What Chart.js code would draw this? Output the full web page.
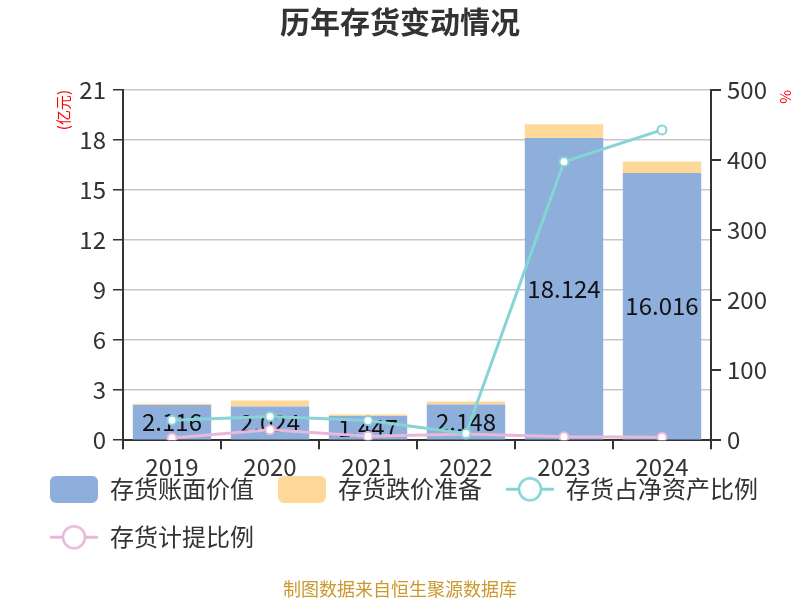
<!DOCTYPE html>
<html>
<head>
<meta charset="utf-8">
<script src="https://cdn.jsdelivr.net/npm/chart.js@4/dist/chart.umd.min.js"></script>
<style>
	html, body { margin: 0; padding: 0; background: #fff; }
	#wrap { width: 800px; height: 600px; }
</style>
</head>
<body>
<div id="wrap"><canvas id="invC" width="800" height="600"></canvas></div>
<script>
// data
const years = ['2019', '2020', '2021', '2022', '2023', '2024'];
const bookValue = [2.116, 2.024, 1.447, 2.148, 18.124, 16.016];   // 亿元
const reserve = [0.07, 0.36, 0.10, 0.18, 0.82, 0.70];             // 亿元
const shareOfNetAssets = [28.6, 34, 28, 9.5, 397.6, 443];         // %
const provisionRatio = [3.3, 14.8, 5.7, 9, 4.8, 4.2];             // %
const leftTicks = [0, 21, 3];
const rightTicks = [0, 500, 100];

const BLUE = '#8eaedb', ORANGE = '#fed899', TEAL = '#86d4d6', PINK = '#e8b8da';

Chart.defaults.font.family = "'Noto Sans CJK SC', 'Noto Sans', sans-serif";
Chart.defaults.font.size = 24;
Chart.defaults.color = '#333';

// legend swatches
function boxImg(color) {
	const c = document.createElement('canvas');
	c.width = 48; c.height = 27;
	const g = c.getContext('2d');
	g.fillStyle = color;
	g.beginPath();
	g.roundRect(0, 0, 48, 27, 6);
	g.fill();
	return c;
}
function lineImg(color) {
	const c = document.createElement('canvas');
	c.width = 48; c.height = 27;
	const g = c.getContext('2d');
	g.strokeStyle = color;
	g.lineWidth = 3;
	g.beginPath();
	g.moveTo(0, 13.5); g.lineTo(48, 13.5);
	g.stroke();
	g.fillStyle = '#fff';
	g.lineWidth = 2.5;
	g.beginPath();
	g.arc(24, 13.5, 11, 0, Math.PI * 2);
	g.fill(); g.stroke();
	return c;
}
const swatches = [boxImg(BLUE), boxImg(ORANGE), lineImg(TEAL), lineImg(PINK)];

// value labels inside the book value bars
const barLabels = {
	id: 'barLabels',
	afterDatasetDraw(chart, args) {
		if (args.index !== 0) return;
		const ctx = chart.ctx;
		ctx.save();
		ctx.font = "24px 'Noto Sans CJK SC', 'Noto Sans', sans-serif";
		ctx.fillStyle = '#111';
		ctx.textAlign = 'center';
		ctx.textBaseline = 'middle';
		args.meta.data.forEach((bar, i) => {
			ctx.fillText(bookValue[i].toFixed(3), bar.x, (bar.y + bar.base) / 2);
		});
		ctx.restore();
	}
};
// pull the legend up under the year labels, keep the title centred on the page
const layoutNudge = {
	id: 'layoutNudge',
	afterLayout(chart) {
		const lg = chart.legend;
		const shift = lg.top - (chart.chartArea.bottom + 13);
		lg.top -= shift;
		lg.bottom -= shift;
		const t = chart.titleBlock;
		const d = (chart.width - (t.left + t.right)) / 2;
		t.left += d;
		t.right += d;
	}
};
// source note
const footer = {
	id: 'footer',
	afterDraw(chart) {
		const ctx = chart.ctx;
		ctx.save();
		ctx.font = "18px 'Noto Sans CJK SC', sans-serif";
		ctx.fillStyle = '#c9982e';
		ctx.textAlign = 'center';
		ctx.textBaseline = 'middle';
		ctx.fillText('制图数据来自恒生聚源数据库', chart.width / 2, chart.height - 11);
		ctx.restore();
	}
};

const lineCommon = {
	type: 'line',
	yAxisID: 'y1',
	borderWidth: 3,
	pointRadius: 4.5,
	pointBorderWidth: 2,
	pointBackgroundColor: '#fff',
	tension: 0,
	order: 0
};

new Chart(document.getElementById('invC'), {
	type: 'bar',
	data: {
		labels: years,
		datasets: [{
			label: '存货账面价值',
			data: bookValue,
			backgroundColor: BLUE,
			stack: 's',
			order: 1,
			barPercentage: 0.8,
			categoryPercentage: 1
		}, {
			label: '存货跌价准备',
			data: reserve,
			backgroundColor: ORANGE,
			stack: 's',
			order: 1,
			barPercentage: 0.8,
			categoryPercentage: 1
		}, {
			...lineCommon,
			label: '存货占净资产比例',
			data: shareOfNetAssets,
			borderColor: TEAL,
			pointBorderColor: TEAL
		}, {
			...lineCommon,
			label: '存货计提比例',
			data: provisionRatio,
			borderColor: PINK,
			pointBorderColor: PINK
		}]
	},
	options: {
		responsive: false,
		animation: false,
		layout: { padding: { left: 26, right: 5, top: 0, bottom: 10 } },
		plugins: {
			title: {
				display: true,
				text: '历年存货变动情况',
				color: '#333',
				font: { size: 30, weight: 'bold' },
				padding: { top: 4, bottom: 50 }
			},
			legend: {
				position: 'bottom',
				align: 'start',
				labels: {
					usePointStyle: true,
					pointStyleWidth: 48,
					padding: 24,
					color: '#333',
					font: { size: 24 },
					sort: (a, b) => a.datasetIndex - b.datasetIndex,
					generateLabels(chart) {
						const items = Chart.defaults.plugins.legend.labels.generateLabels(chart);
						items.forEach(it => { it.pointStyle = swatches[it.datasetIndex]; });
						return items;
					}
				}
			},
			tooltip: { enabled: false }
		},
		scales: {
			x: {
				stacked: true,
				grid: { offset: true, drawOnChartArea: false, tickColor: '#333', tickLength: 9, lineWidth: 2 },
				border: { color: '#333', width: 2 },
				ticks: { padding: 3, color: '#333', font: { size: 24 } }
			},
			y: {
				stacked: true,
				min: leftTicks[0], max: leftTicks[1],
				afterFit: (s) => { s.width = 97; },
				grid: { color: '#c8c8c8', lineWidth: 1.5, tickColor: '#333', tickLength: 10 },
				border: { color: '#333', width: 2 },
				ticks: { stepSize: leftTicks[2], padding: 7, color: '#333', font: { size: 24 } },
				title: { display: true, text: '(亿元)', color: '#f00', align: 'end', font: { size: 15 }, padding: { top: 28, bottom: 0 } }
			},
			y1: {
				position: 'right',
				min: rightTicks[0], max: rightTicks[1],
				afterFit: (s) => { s.width = 84; },
				grid: { drawOnChartArea: false, tickColor: '#333', tickLength: 10, lineWidth: 2 },
				border: { color: '#333', width: 2 },
				ticks: { stepSize: rightTicks[2], padding: 6, color: '#333', font: { size: 24 } },
				title: { display: true, text: '%', color: '#f00', align: 'end', font: { size: 15 }, padding: { top: 0, bottom: 0 } }
			}
		}
	},
	plugins: [barLabels, layoutNudge, footer]
});
</script>
</body>
</html>
